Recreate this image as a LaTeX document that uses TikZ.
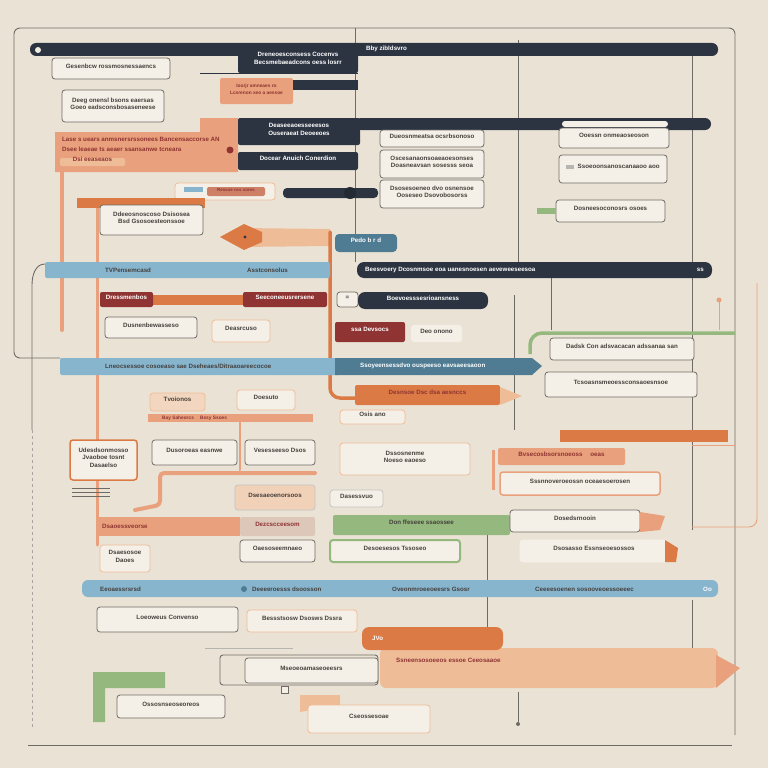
\documentclass[tikz,border=0pt]{standalone}
\usepackage{fontspec}
\setmainfont{Liberation Sans}
\usetikzlibrary{fit}

\definecolor{paper}{HTML}{EAE3D5}
\definecolor{card}{HTML}{F5F0E7}
\definecolor{edge}{HTML}{6E6A66}
\definecolor{navy}{HTML}{2D3441}
\definecolor{salmon}{HTML}{E9A07C}
\definecolor{peach}{HTML}{EFBC98}
\definecolor{rust}{HTML}{DB7A45}
\definecolor{wine}{HTML}{8F3433}
\definecolor{sky}{HTML}{87B5CE}
\definecolor{steel}{HTML}{4F7C92}
\definecolor{sage}{HTML}{94B87E}
\definecolor{ink}{HTML}{45403C}

\begin{document}
\begin{tikzpicture}[x=1pt, y=-1pt,
	txt/.style={font=\fontsize{6.2}{7.4}\selectfont\bfseries, text=ink, align=center, inner sep=0pt},
	card/.style={txt, draw=edge, fill=card, rounded corners=3pt, line width=0.8pt},
	slab/.style={txt, rounded corners=2pt, text=white},
	frame/.style={draw=edge, line width=0.9pt},
	pipe/.style={draw=salmon, line width=3.5pt, line cap=round}]
	\fill[paper] (0,0) rectangle (768,768);
	\useasboundingbox (0,0) rectangle (768,768);
	% frame and grid lines
	\draw[frame, rounded corners=6pt] (60,358) -- (14,358) -- (14,28) -- (735,28) -- (735,735);
	\draw[frame] (28,745) -- (732,745);
	\foreach \x/\ya/\yb in {355/28/262, 518/40/262, 692/55/262, 692/278/530, 692/600/650, 551/278/330, 514/295/430, 487/530/640}
		\draw[frame] (\x, \ya) -- (\x, \yb);
	\draw[frame] (45,264) to[out=180, in=90] (32,285) -- (32,430);
	\draw[edge!60, dashed] (32,430) -- (32,730);
	\draw[salmon, line width=0.9pt, rounded corners=8pt] (757,283) -- (757,527) -- (692,527);
	\draw[salmon, line width=0.8pt] (692,445) -- (736,445);
	\draw[salmon, line width=0.9pt] (719,300) -- (719,330);
	\fill[salmon] (719,300) circle (2.5);
	\draw[pipe, line width=4pt] (62,172) -- (62,330);
	\draw[pipe, line width=3pt] (97,200) -- (97,545);

	% top band
	\node[slab, fill=navy, rounded corners=6pt, fit={(30,43) (718,56)}] (topbar) {};
	\fill[card!70!paper] (38,50) circle (3);
	\node[txt, text=white, anchor=west] (toplbl) at (366,49) {Bby zibldsvro};
	\draw[navy, line width=1pt] (200,73) -- (358,73);
	\node[slab, fill=navy, fit={(238,48) (358,73)}] (hdrA) {Dreneoesconsess Cocenvs\\Becsmebaeadcons oess losrr};
	\node[card, fit={(52,58) (170,79)}] (noteA) {Gesenbcw rossmosnessaencs};
	\node[card, fit={(62,90) (164,122)}] (noteB) {Deeg onensl bsons eaersas\\Goeo eadsconsbosaseneese};
	\node[slab, fill=salmon, text=wine, fit={(220,78) (293,104)}] (tagA) {\fontsize{4.8}{6.4}\selectfont Ioorjr amneaes ro\\\fontsize{4.8}{6.4}\selectfont Lcsrenon xeo a aessoe};
	\fill[navy] (293,80) rectangle (358,90);

	% salmon block
	\fill[salmon] (55,132) -- (200,132) -- (200,118) -- (238,118) -- (238,172) -- (55,172) -- cycle;
	\node[txt, text=wine, anchor=west] (blkA1) at (62,139) {Lase s uears anmsnersrssonees Bancensaccorse AN};
	\node[txt, text=wine, anchor=west] (blkA2) at (62,149) {Dsee leaeae ts aeaer ssansanwe tcneara};
	\node[slab, fill=peach, text=wine, fit={(60,158) (125,166)}] (blkA3) {Dsi eeaseaos};
	\fill[wine] (230,150) circle (3.5);

	% navy headers
	\node[slab, fill=navy, rounded corners=6pt, fit={(355,118) (711,130)}] (midbar) {};
	\node[slab, fill=card, rounded corners=3pt, fit={(562,121) (668,127)}] (midslot) {};
	\node[slab, fill=navy, fit={(238,118) (360,145)}] (hdrB) {Deaseeaoesseeesos\\Ouseraeat Deoeeoes};
	\node[slab, fill=navy, fit={(238,152) (358,170)}] (hdrC) {Docear Anuich Conerdion};

	% column boxes
	\node[card, fit={(380,130) (484,147)}] (colA1) {Dueosnmeatsa ocsrbsonoso};
	\node[card, fit={(380,150) (484,178)}] (colA2) {Oscesanaonsoaeaoesonses\\Doasneavsan sosesss seoa};
	\node[card, fit={(380,180) (484,208)}] (colA3) {Dsosesoeneo dvo osnensoe\\Ooseseo Dsovobosorss};
	\node[card, fit={(559,128) (669,148)}] (colB1) {Ooessn onmeaoseoson};
	\node[card, fit={(559,155) (667,183)}] (colB2) {\textcolor{edge!50}{\rule{8pt}{4pt}}\ \ Ssoeoonsanoscanaaoo aoo};
	\node[card, fit={(556,200) (665,222)}] (colB3) {Dosneesoconosrs osoes};
	\fill[sage] (537,208) rectangle (556,214);

	% small row
	\node[card, draw=peach, fit={(175,183) (275,200)}] (rowA) {};
	\fill[sky] (184,187) rectangle (203,192);
	\node[slab, fill=salmon!70!wine, text=wine, fit={(207,187) (265,196)}] (rowAtag) {\fontsize{4.4}{4.4}\selectfont Ressoe ncs soros};
	\node[slab, fill=navy, rounded corners=4pt, fit={(283,188) (378,198)}] (rowB) {};
	\fill[navy!80!black] (350,193) circle (6);
	\fill[rust] (77,198) rectangle (205,208);
	\node[card, fit={(100,205) (203,235)}] (noteC) {Ddeeosnoscoso Dsisosea\\Bsd Gsosoesteonssoe};

	% arrow and pipe
	\fill[peach] (240,228) -- (330,229) -- (330,246) -- (240,247) -- cycle;
	\fill[rust] (220,237) -- (244,224) -- (262,232) -- (262,242) -- (244,250) -- cycle;
	\fill[navy] (245,237) circle (1.6);
	\draw[pipe, draw=rust, rounded corners=10pt] (330,232) -- (330,398) -- (358,398);
	\node[slab, fill=steel, rounded corners=4pt, fit={(335,234) (397,252)}] (pedo) {Pedo b r d};

	% sky and navy bars
	\node[slab, fill=sky, fit={(45,262) (330,278)}] (skyA) {};
	\node[txt, anchor=west] (skyA1) at (105,270) {TVPensemcasd};
	\node[txt, anchor=west] (skyA2) at (247,270) {Asstconsolus};
	\node[slab, fill=navy, rounded corners=7pt, fit={(357,262) (712,278)}] (navyA) {};
	\node[txt, text=white, anchor=west] (navyA1) at (365,270) {Beesvoery Dcosnmsoe eoa uanesnoesen aeveweeseesoa};
	\node[txt, text=white, anchor=east] (navyA2) at (704,270) {ss};

	% wine row
	\fill[rust] (153,295) rectangle (243,305);
	\node[slab, fill=wine, fit={(100,292) (153,307)}] (wineA) {Dressmenbos};
	\node[slab, fill=wine, fit={(243,292) (327,307)}] (wineB) {Seeconeeusrersene};
	\node[card, fit={(337,292) (358,307)}] (tinyA) {=};
	\node[slab, fill=navy, rounded corners=7pt, fit={(358,292) (488,309)}] (navyB) {Boevoesssesrioansness};
	\node[card, fit={(105,317) (197,338)}] (noteD) {Dusnenbewasseso};
	\node[card, draw=peach, fit={(212,320) (270,342)}] (noteE) {Deasrcuso};
	\node[slab, fill=wine, fit={(335,322) (405,342)}] (wineC) {ssa Devsocs};
	\node[card, draw=none, fit={(411,325) (462,342)}] (noteF) {Deo onono};

	% second sky bar
	\node[slab, fill=sky, fit={(60,358) (340,375)}] (skyB) {};
	\fill[steel] (335,358) -- (532,358) -- (542,366) -- (532,375) -- (335,375) -- cycle;
	\node[txt, anchor=west] (skyB1) at (105,366) {Lneocsessoe cosoeaso sae Dseheaes/Ditraaoareecocoe};
	\node[txt, text=white, anchor=west] (skyB2) at (360,366) {Ssoyeensessdvo ouspeeso eavsaeesaoon};

	% green bracket and right boxes
	\draw[sage, line width=3.5pt, rounded corners=12pt] (530,354) -- (530,333) -- (735,333);
	\node[card, fit={(550,338) (694,360)}] (noteG) {Dadsk Con adsvacacan adssanaa san};
	\node[card, fit={(545,372) (697,397)}] (noteH) {Tcsoasnsmeoessconsaoesnsoe};

	% rust box
	\node[slab, fill=rust, text=wine, fit={(355,385) (500,405)}] (rustA) {Desnsoe Dsc dsa aesnccs};
	\fill[peach] (500,387) -- (522,396) -- (500,405) -- cycle;

	% lower left cluster
	\node[card, draw=peach, fill=peach!50!card, fit={(150,393) (205,411)}] (noteI) {Tvoionos};
	\node[card, draw=peach, fit={(237,390) (295,410)}] (noteJ) {Doesuto};
	\fill[salmon] (148,414) rectangle (313,422);
	\node[txt, text=wine, anchor=west] (bandA) at (162,418) {\fontsize{4.8}{5}\selectfont Bay Saheorcs \quad Bssy Ssoes};
	\node[card, draw=peach, fit={(340,410) (405,424)}] (noteK) {Osis ano};
	\draw[pipe, line width=2pt] (240,415) -- (240,470);
	\node[card, draw=rust, line width=1.5pt, fit={(70,440) (137,480)}] (noteL) {Udesdsonmosso\\Jvaoboe tosnt\\Dasaelso};
	\node[card, fit={(152,440) (237,465)}] (noteM) {Dusoroeas easnwe};
	\node[card, fit={(245,440) (315,465)}] (noteN) {Vesesseeso Dsos};
	\node[card, draw=peach, fit={(340,443) (470,475)}] (noteO) {Dssosnenme\\Noeso eaoeso};

	% right orange cluster
	\fill[rust] (560,430) rectangle (728,442);
	\draw[salmon, line width=3pt] (493,450) -- (493,490);
	\node[slab, fill=salmon, text=wine, fit={(498,448) (625,465)}] (rustB) {Bvsecosbsorsnoeoss \quad oeas};
	\node[card, draw=salmon, line width=1.5pt, fit={(500,472) (660,495)}] (noteP) {Sssnnoveroeossn oceaesoerosen};

	% orange band and marks
	\draw[pipe, line width=4pt, rounded corners=4pt] (315,473) -- (160,473) -- (160,505) -- (135,510);
	\foreach \y in {488, 492, 496}
		\draw[edge, line width=1pt] (72,\y) -- (110,\y);
	\node[card, draw=edge!40, fill=peach!60!card, fit={(235,485) (315,510)}] (noteR) {Dsesaeoenorsoos};
	\node[card, draw=edge!40, fit={(330,490) (383,507)}] (noteS) {Dasessvuo};
	\fill[salmon] (98,517) rectangle (240,536);
	\node[txt, text=wine, anchor=west] (bandB) at (102,526) {Dsaoessveorse};
	\node[slab, fill=salmon!60!edge!40!card, text=wine, fit={(240,517) (315,536)}] (noteT) {Dezcscceesom};
	\node[slab, fill=sage, text=ink, fit={(333,515) (510,535)}] (sageA) {Don ffeseee ssaossee};
	\node[card, fit={(510,510) (640,532)}] (noteQ) {Dosedsrnooin};
	\fill[salmon] (640,512) -- (665,516) -- (660,530) -- (640,532) -- cycle;

	% fourth row
	\node[card, draw=peach, fit={(100,545) (150,572)}] (noteU) {Dsaesosoe\\Daoes};
	\node[card, fit={(240,540) (315,562)}] (noteV) {Oaesoseemnaeo};
	\node[card, draw=sage, line width=2pt, fit={(330,540) (460,562)}] (noteW) {Desoesesos Tssoseo};
	\node[card, draw=card, fit={(520,540) (668,562)}] (noteX) {Dsosasso Essnseoesossos};
	\fill[rust] (665,540) -- (678,548) -- (676,562) -- (665,562) -- cycle;

	% third sky bar
	\node[slab, fill=sky, rounded corners=6pt, fit={(82,580) (718,597)}] (skyC) {};
	\node[txt, anchor=west] (skyC1) at (100,589) {Eeoaessrsrsd};
	\fill[steel] (244,589) circle (3);
	\node[txt, anchor=west] (skyC2) at (252,589) {Deeeeroesss dsoosson};
	\node[txt, anchor=west] (skyC3) at (392,589) {Oveonmroeeoeesrs Gsosr};
	\node[txt, anchor=west] (skyC4) at (535,589) {Ceeeesoenen sosooveoessoeeec};
	\node[txt, text=white, anchor=east] (skyC5) at (712,589) {Oo};

	% bottom area
	\node[card, fit={(97,607) (238,632)}] (noteY) {Loeoweus Convenso};
	\node[card, draw=peach, fit={(247,610) (357,632)}] (noteZ) {Bessstsosw Dsosws Dssra};
	\fill[peach, rounded corners=6pt] (380,648) rectangle (718,688);
	\fill[salmon] (716,655) -- (740,668) -- (716,688) -- cycle;
	\node[txt, text=wine, anchor=west] (bandC) at (396,660) {Ssneensosoeeos essoe Ceeosaaoe};
	\node[slab, fill=rust, rounded corners=7pt, fit={(362,627) (503,650)}] (rustC) {};
	\node[txt, text=white, anchor=west] (rustC1) at (372,638) {JVo};
	\draw[frame, draw=edge!50] (205,648) -- (293,648);
	\draw[frame, rounded corners=3pt] (220,655) rectangle (378,685);
	\node[card, fit={(245,658) (378,683)}] (noteAA) {Mseoeoamaseoeesrs};
	\node[draw=edge, fill=card, minimum size=7pt, inner sep=0pt] (icoA) at (285,690) {};
	\fill[sage] (93,672) -- (165,672) -- (165,688) -- (105,688) -- (105,722) -- (93,722) -- cycle;
	\node[card, fit={(117,695) (225,718)}] (noteBB) {Ossosnseoseoreos};
	\fill[peach] (300,695) -- (340,695) -- (340,705) -- (300,712) -- cycle;
	\node[card, draw=peach, fit={(308,705) (430,733)}] (noteCC) {Cseossesoae};
	\draw[edge, line width=1pt] (518,692) -- (518,722);
	\fill[edge] (518,724) circle (2);
\end{tikzpicture}
\end{document}
